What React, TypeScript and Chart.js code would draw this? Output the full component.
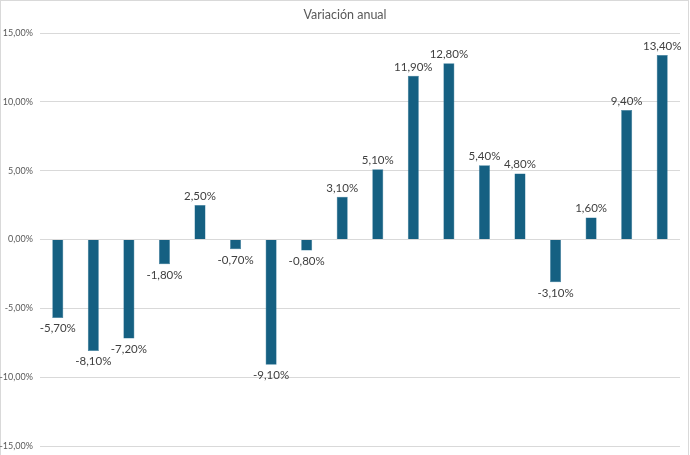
import { useEffect, useRef } from "react";
import { Chart, registerables } from "chart.js";

Chart.register(...registerables);

const categories: string[] = [
  "1", "2", "3", "4", "5", "6", "7", "8", "9", "10", "11", "12", "13", "14", "15", "16", "17", "18",
];
const values: number[] = [
  -5.7, -8.1, -7.2, -1.8, 2.5, -0.7, -9.1, -0.8, 3.1, 5.1, 11.9, 12.8, 5.4, 4.8, -3.1, 1.6, 9.4, 13.4,
];
const yTicks: number[] = [-15, -10, -5, 0, 5, 10, 15];
const titleText = "Variación anual";

const fmt = (v: number) => v.toFixed(2).replace(".", ",") + "%";
const FONT = "Lato, 'Open Sans', sans-serif";

export default function App() {
  const ref = useRef<HTMLCanvasElement | null>(null);
  useEffect(() => {
    document.body.style.margin = "0";
    if (!ref.current) return;
    const frame = {
      id: "frame",
      beforeDraw(chart: any) {
        const ctx = chart.ctx;
        ctx.save();
        ctx.fillStyle = "#ffffff";
        ctx.fillRect(0, 0, chart.width, chart.height);
        ctx.strokeStyle = "#d9d9d9";
        ctx.lineWidth = 1;
        ctx.strokeRect(0.5, 0.5, 688, 470);
        ctx.fillStyle = "#595959";
        ctx.font = `12.5px ${FONT}`;
        ctx.textAlign = "center";
        ctx.textBaseline = "middle";
        ctx.fillText(titleText, 345, 15);
        ctx.restore();
      },
      afterDatasetsDraw(chart: any) {
        const ctx = chart.ctx;
        const meta = chart.getDatasetMeta(0);
        ctx.save();
        ctx.fillStyle = "#404040";
        ctx.font = `11.5px ${FONT}`;
        ctx.textAlign = "center";
        meta.data.forEach((bar: any, i: number) => {
          const v = values[i];
          if (v >= 0) {
            ctx.textBaseline = "bottom";
            ctx.fillText(fmt(v), bar.x, bar.y - 3);
          } else {
            ctx.textBaseline = "top";
            ctx.fillText(fmt(v), bar.x, bar.y + 5);
          }
        });
        ctx.restore();
      },
    };
    const chart = new Chart(ref.current, {
      type: "bar",
      data: {
        labels: categories,
        datasets: [
          {
            data: values,
            backgroundColor: "#156082",
            borderColor: "#2a7396",
            borderWidth: 0.5,
            barPercentage: 0.31,
            categoryPercentage: 1,
          },
        ],
      },
      options: {
        responsive: false,
        animation: false,
        layout: { padding: { top: 33, bottom: 9, left: 0, right: 10 } },
        plugins: {
          legend: { display: false },
          title: { display: false },
          tooltip: { enabled: false },
        },
        scales: {
          x: { display: false, offset: true },
          y: {
            min: -15,
            max: 15,
            afterFit(scale: any) {
              scale.width = 40;
              scale.paddingTop = 0;
              scale.paddingBottom = 0;
            },
            afterBuildTicks(scale: any) {
              scale.ticks = yTicks.map((v) => ({ value: v }));
            },
            border: { display: false },
            grid: { color: "#d9d9d9", drawTicks: false, lineWidth: 1 },
            ticks: {
              padding: 7,
              color: "#595959",
              font: { size: 9, family: FONT },
              callback: (v: any) => fmt(Number(v)),
            },
          },
        },
      },
      plugins: [frame],
    });
    return () => chart.destroy();
  }, []);
  return <canvas ref={ref} width={690} height={455} style={{ display: "block" }} />;
}
